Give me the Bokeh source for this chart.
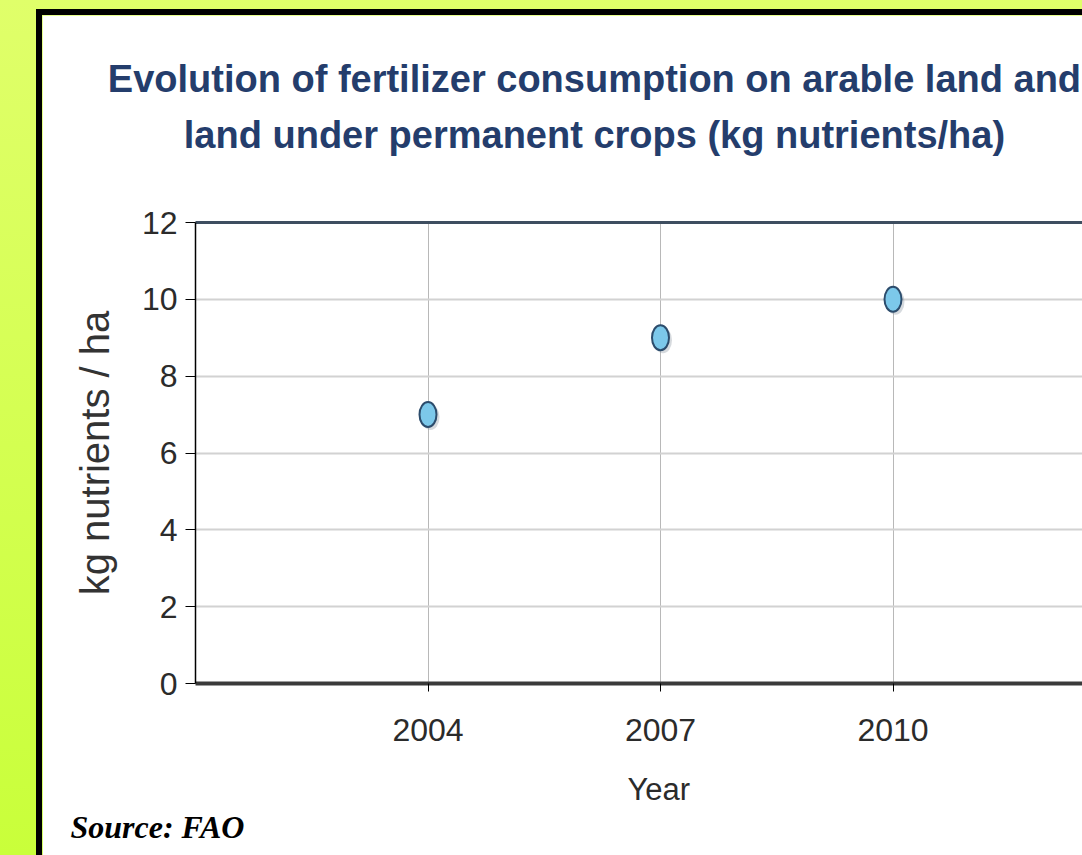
from bokeh.plotting import figure
from bokeh.models import Range1d, FixedTicker, Title, LinearAxis
from bokeh.layouts import column
from bokeh.embed import file_html
from bokeh.resources import INLINE

# ---- data ----
years = [2004, 2007, 2010]
year_labels = ["2004", "2007", "2010"]
values = [7.0, 9.0, 10.0]
y_ticks = [0, 2, 4, 6, 8, 10, 12]

title_lines = ["Evolution of fertilizer consumption on arable land and",
               "land under permanent crops (kg nutrients/ha)"]
x_title = "Year"
y_title = "kg nutrients / ha"
source_note = "Source: FAO"

SANS = "Liberation Sans"

W, H = 1046, 846               # element size (6px border sits inside)
FRAME_LEFT, FRAME_TOP, FRAME_BOTTOM = 153, 207, 178
x_start = 2001
px_per_year = 77.5
frame_w = W - FRAME_LEFT
frame_h = H - FRAME_TOP - FRAME_BOTTOM
x_end = x_start + frame_w / px_per_year
SPACER_TICK_AT = x_end - 0.03   # just past the visible right edge

p = figure(width=W, height=H, output_backend="svg", toolbar_location=None,
           x_range=Range1d(x_start, x_end),
           y_range=Range1d(y_ticks[0], y_ticks[-1]),
           min_border_left=FRAME_LEFT, min_border_right=0,
           min_border_top=FRAME_TOP, min_border_bottom=FRAME_BOTTOM)
p.title = None
p.background_fill_color = "white"
p.border_fill_color = "white"
p.outline_line_color = None
p.styles = {"border-left": "6px solid black", "border-top": "6px solid black"}

xa = p.xaxis[0]
ya = p.yaxis[0]

# axes
xa.ticker = FixedTicker(ticks=years)
xa.major_label_overrides = {y: l for y, l in zip(years, year_labels)}
ya.ticker = FixedTicker(ticks=y_ticks)
for ax in (xa, ya):
    ax.minor_tick_line_color = None
    ax.minor_tick_out = 0
    ax.major_tick_in = 0
    ax.major_tick_line_color = "black"
    ax.major_label_text_font = SANS
    ax.major_label_text_font_size = "32px"
    ax.major_label_text_color = "#2b2b2b"
ya.major_tick_out = 10
xa.major_tick_out = 8
ya.axis_line_color = "black"
ya.axis_line_width = 1.5
ya.major_label_standoff = 8
xa.axis_line_color = "#3a3a3a"
xa.axis_line_width = 4
xa.major_label_standoff = 27

ya.axis_label = y_title
ya.axis_label_text_font = SANS
ya.axis_label_text_font_style = "normal"
ya.axis_label_text_font_size = "40px"
ya.axis_label_text_color = "#333333"
ya.axis_label_standoff = 22

# grids
p.ygrid.grid_line_color = "#d2d2d2"
p.ygrid.grid_line_width = 2
p.xgrid.grid_line_color = "#b8b8b8"
p.xgrid.grid_line_width = 1


def spacer_axis(gap, line_color=None, line_width=1):
    # an axis whose single white tick only reserves room (and optionally draws its line)
    return LinearAxis(ticker=FixedTicker(ticks=[SPACER_TICK_AT]),
                      major_label_overrides={SPACER_TICK_AT: ""},
                      major_label_text_font_size="0px",
                      major_tick_out=gap, major_tick_in=0,
                      minor_tick_out=0, minor_tick_in=0, major_label_standoff=0,
                      major_tick_line_color="white", minor_tick_line_color=None,
                      axis_line_color=line_color, axis_line_width=line_width)


# top border line of the plot area + room between plot and title
p.add_layout(spacer_axis(67, "#3e4e60", 3), "above")

# points (with a soft drop shadow)
dx = 2.5 / px_per_year
dy = 2.5 / (frame_h / (y_ticks[-1] - y_ticks[0]))
p.ellipse(x=[v + dx for v in years], y=[v - dy for v in values], width=18, height=26,
          width_units="screen", height_units="screen",
          fill_color="#8a96a0", fill_alpha=0.35, line_color=None)
p.ellipse(x=years, y=values, width=17, height=25,
          width_units="screen", height_units="screen",
          fill_color="#7cc8ea", line_color="#2c4c6c", line_width=2)

# titles (side panels; offsets measured from the frame's left edge)
p.add_layout(Title(text=title_lines[1], align="left", offset=-11.7, standoff=0,
                   vertical_align="bottom", text_font=SANS, text_font_style="bold",
                   text_font_size="38px", text_color="#243d6c"), "above")
p.add_layout(Title(text=title_lines[0], align="left", offset=-87.7, standoff=23,
                   vertical_align="bottom", text_font=SANS, text_font_style="bold",
                   text_font_size="38px", text_color="#243d6c"), "above")

p.add_layout(spacer_axis(28), "below")
p.add_layout(Title(text=x_title, align="left", offset=432, standoff=0,
                   vertical_align="top", text_font=SANS, text_font_style="normal",
                   text_font_size="31px", text_color="#2b2b2b"), "below")
p.add_layout(Title(text=source_note, align="left", offset=-125, standoff=0,
                   vertical_align="top", text_font="Liberation Serif",
                   text_font_style="bold italic",
                   text_font_size="32px", text_color="black"), "below")

outer = column(p, styles={"background": "linear-gradient(to bottom, #e0ff6a, #c9ff3a)",
                          "padding-left": "36px", "padding-top": "9px"})

open("out.html", "w").write(file_html(outer, INLINE))
